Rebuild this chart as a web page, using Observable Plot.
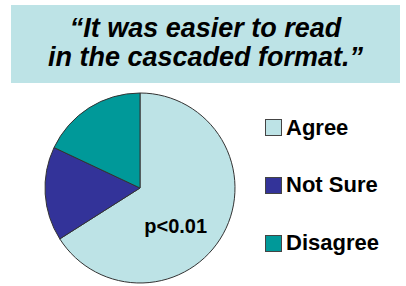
<!DOCTYPE html>
<html><head><meta charset="utf-8">
<script src="https://cdn.jsdelivr.net/npm/d3@7"></script>
<script src="https://cdn.jsdelivr.net/npm/@observablehq/plot@0.6"></script>
<style>
body{margin:0;width:406px;height:286px;background:#fff;position:relative;overflow:hidden;font-family:"Liberation Sans",Arial,sans-serif;}
#title{position:absolute;left:11px;top:5px;width:389px;height:78px;background:#bde3e6;box-sizing:border-box;padding-top:9px;text-align:center;font:italic bold 27px/29px "Liberation Sans",Arial,sans-serif;color:#000;}
#chart{position:absolute;left:0;top:83px;}
.sw{position:absolute;width:17px;height:17px;box-sizing:border-box;border:1px solid #444;}
.lb{position:absolute;font:bold 22px/22px "Liberation Sans",Arial,sans-serif;color:#000;white-space:nowrap;}
</style>
</head><body>
<div id="title">“It was easier to read<br>in the cascaded format.”</div>
<div id="chart"></div>
<div id="legend"></div>
<script>
const categories = ["Agree", "Not Sure", "Disagree"];
const values = [66, 16, 18];
const colors = ["#bde3e6", "#333399", "#009999"];
const annotation = "p<0.01";

const data = categories.map((c, i) => ({category: c, value: values[i]}));
const arcs = d3.pie().sort(null).value(d => d.value)(data);

const pieMark = (index, scales, vals, dims, context) => {
  const cx = scales.x(0), cy = scales.y(0);
  const r = scales.x(1) - scales.x(0);
  const arc = d3.arc().innerRadius(0).outerRadius(r);
  const g = d3.create("svg:g").attr("transform", `translate(${cx},${cy})`);
  g.selectAll("path").data(arcs).join("path")
    .attr("d", arc)
    .attr("fill", d => scales.color(d.data.category))
    .attr("stroke", "#333")
    .attr("stroke-width", 1);
  return g.node();
};

const chart = Plot.plot({
  width: 406,
  height: 203,
  margin: 0,
  x: {domain: [-1, 1], range: [45, 235], axis: null},
  y: {domain: [-1, 1], range: [200, 10], axis: null},
  color: {domain: categories, range: colors},
  style: {background: "transparent"},
  marks: [
    pieMark,
    Plot.text([annotation], {x: () => 0.37, y: () => -0.405, text: d => d,
      fontSize: 20, fontWeight: "bold", fill: "#000",
      fontFamily: "Liberation Sans, Arial, sans-serif"})
  ]
});
document.getElementById("chart").appendChild(chart);

const legend = document.getElementById("legend");
categories.forEach((c, i) => {
  const sw = document.createElement("div");
  sw.className = "sw";
  sw.style.left = "265px";
  sw.style.top = (119 + i * 58) + "px";
  sw.style.background = colors[i];
  legend.appendChild(sw);
  const lb = document.createElement("div");
  lb.className = "lb";
  lb.style.left = "286px";
  lb.style.top = (116.5 + i * 57.5) + "px";
  lb.textContent = c;
  legend.appendChild(lb);
});
</script>
</body></html>
